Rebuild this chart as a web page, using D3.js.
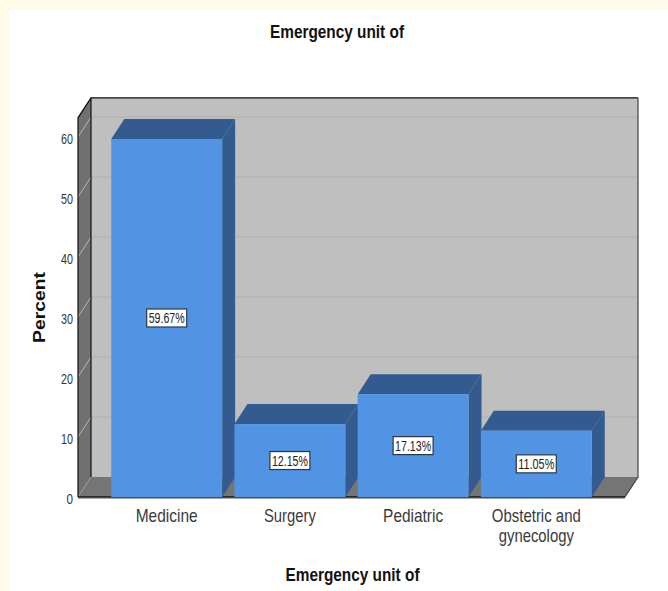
<!DOCTYPE html>
<html>
<head>
<meta charset="utf-8">
<script src="https://cdn.jsdelivr.net/npm/d3@7/dist/d3.min.js"></script>
<style>
html,body{margin:0;padding:0;background:#fff;}
svg{display:block;}
text{font-family:"Liberation Sans",Arial,sans-serif;}
</style>
</head>
<body>
<svg id="chart" width="668" height="591"></svg>
<script>
const categories = ["Medicine", "Surgery", "Pediatric", "Obstetric and|gynecology"];
const percents = [59.67, 12.15, 17.13, 11.05];
const valueTicks = [0, 10, 20, 30, 40, 50, 60];
const chartTitle = "Emergency unit of";
const axisTitleX = "Emergency unit of";
const axisTitleY = "Percent";

const svg = d3.select("#chart");
const W = 668, H = 591;

// Cream page edge along the top and left
svg.append("rect").attr("width", W).attr("height", H).attr("fill", "#ffffff");
svg.append("rect").attr("width", W).attr("height", 10).attr("fill", "#fffbe8");
svg.append("rect").attr("width", 9).attr("height", H).attr("fill", "#fffbe8");

// Plot box and the oblique depth of the 3-D frame
const left = 78, right = 625, base = 497;
const dx = 13, dy = -20;

const y = d3.scaleLinear().domain([0, 60]).range([base, 137]);
const x = d3.scaleBand().domain(categories).range([left, right])
  .paddingInner(0.1).paddingOuter(0.27);

const topFront = y(63.2);
const poly = pts => pts.map(p => p.join(",")).join(" ");

// Back wall
svg.append("polygon")
  .attr("points", poly([[left+dx, topFront+dy], [right+dx, topFront+dy], [right+dx, base+dy], [left+dx, base+dy]]))
  .attr("fill", "#bfbfbf");
// Left wall
svg.append("polygon")
  .attr("points", poly([[left, topFront], [left+dx, topFront+dy], [left+dx, base+dy], [left, base]]))
  .attr("fill", "#707070");
// Floor
svg.append("polygon")
  .attr("points", poly([[left, base], [left+dx, base+dy], [right+dx, base+dy], [right, base]]))
  .attr("fill", "#757575");

// Gridlines across the back wall and down the left wall
const grid = svg.append("g");
valueTicks.filter(d => d > 0).forEach(d => {
  grid.append("line")
    .attr("x1", left+dx).attr("x2", right+dx)
    .attr("y1", y(d)+dy).attr("y2", y(d)+dy)
    .attr("stroke", "#b0b0b0").attr("stroke-width", 1);
  grid.append("line")
    .attr("x1", left).attr("x2", left+dx)
    .attr("y1", y(d)).attr("y2", y(d)+dy)
    .attr("stroke", "#b4b4b4").attr("stroke-width", 1);
});
grid.append("line")
  .attr("x1", left).attr("x2", left+dx)
  .attr("y1", base).attr("y2", base+dy)
  .attr("stroke", "#999999").attr("stroke-width", 1);

// Frame outline
const frame = svg.append("g").attr("fill", "none");
frame.append("path")
  .attr("d", `M${left},${base}V${topFront}L${left+dx},${topFront+dy}H${right+dx}`)
  .attr("stroke", "#111111").attr("stroke-width", 1.2);
frame.append("path")
  .attr("d", `M${left+dx},${topFront+dy}V${base+dy}`)
  .attr("stroke", "#111111").attr("stroke-width", 1.2);
frame.append("path")
  .attr("d", `M${right+dx},${topFront+dy}V${base+dy}L${right},${base}`)
  .attr("stroke", "#444444").attr("stroke-width", 1.2);
frame.append("path")
  .attr("d", `M${left},${base}H${right}`)
  .attr("stroke", "#111111").attr("stroke-width", 1.4);
frame.append("path")
  .attr("d", `M${left},${base+1.5}H${right}`)
  .attr("stroke", "#a8a8a8").attr("stroke-width", 1);

// Bars: side, top, then front faces
const bars = svg.append("g").selectAll("g")
  .data(categories.map((c, i) => ({c, v: percents[i]})))
  .join("g");
const bw = x.bandwidth();

bars.append("polygon")
  .attr("points", d => poly([
    [x(d.c)+bw, y(d.v)], [x(d.c)+bw+dx, y(d.v)+dy],
    [x(d.c)+bw+dx, base+dy], [x(d.c)+bw, base]]))
  .attr("fill", "#335b8f");
bars.append("polygon")
  .attr("points", d => poly([
    [x(d.c), y(d.v)], [x(d.c)+dx, y(d.v)+dy],
    [x(d.c)+bw+dx, y(d.v)+dy], [x(d.c)+bw, y(d.v)]]))
  .attr("fill", "#335b8f");
bars.append("rect")
  .attr("x", d => x(d.c)).attr("y", d => y(d.v))
  .attr("width", bw).attr("height", d => base - y(d.v))
  .attr("fill", "#5294e4");

// Value labels in white boxes at mid-height of each bar
const boxW = 40, boxH = 18;
bars.append("rect")
  .attr("x", d => x(d.c)+bw/2-boxW/2)
  .attr("y", d => (y(d.v)+base)/2-boxH/2)
  .attr("width", boxW).attr("height", boxH)
  .attr("fill", "#ffffff").attr("stroke", "#2d3643").attr("stroke-width", 1.2);
bars.append("text")
  .attr("x", d => x(d.c)+bw/2)
  .attr("y", d => (y(d.v)+base)/2+5)
  .attr("text-anchor", "middle")
  .attr("font-size", 14).attr("fill", "#222222")
  .attr("textLength", 36).attr("lengthAdjust", "spacingAndGlyphs")
  .text(d => d.v.toFixed(2) + "%");

// Value axis labels, placed left of the wall
const yAxis = d3.axisLeft(y).tickValues(valueTicks).tickSize(0).tickPadding(5);
const yG = svg.append("g").attr("transform", `translate(${left},1.5)`).call(yAxis);
yG.select(".domain").remove();
yG.selectAll("text")
  .attr("font-size", 14.5).attr("fill", "#333333")
  .style("font-family", '"Liberation Sans",Arial,sans-serif')
  .attr("textLength", d => d === 0 ? 6.5 : 12)
  .attr("lengthAdjust", "spacingAndGlyphs");

// Category labels, wrapped on the separator
const widths = {"Medicine": 62, "Surgery": 52, "Pediatric": 60, "Obstetric and": 89, "gynecology": 75};
const catG = svg.append("g");
categories.forEach(c => {
  c.split("|").forEach((line, i) => {
    catG.append("text")
      .attr("x", x(c)+bw/2)
      .attr("y", 522 + i*19.5)
      .attr("text-anchor", "middle")
      .attr("font-size", 19).attr("fill", "#3a3a3a")
      .attr("textLength", widths[line]).attr("lengthAdjust", "spacingAndGlyphs")
      .text(line);
  });
});

// Titles
svg.append("text").attr("x", 337).attr("y", 38).attr("text-anchor", "middle")
  .attr("font-size", 19).attr("font-weight", "bold").attr("fill", "#111111")
  .attr("textLength", 134).attr("lengthAdjust", "spacingAndGlyphs").text(chartTitle);
svg.append("text").attr("x", 352.5).attr("y", 581).attr("text-anchor", "middle")
  .attr("font-size", 19).attr("font-weight", "bold").attr("fill", "#111111")
  .attr("textLength", 134).attr("lengthAdjust", "spacingAndGlyphs").text(axisTitleX);
svg.append("text").attr("transform", "translate(45,307.5) rotate(-90)").attr("text-anchor", "middle")
  .attr("font-size", 17).attr("font-weight", "bold").attr("fill", "#111111")
  .attr("textLength", 71).attr("lengthAdjust", "spacingAndGlyphs").text(axisTitleY);
</script>
</body>
</html>
